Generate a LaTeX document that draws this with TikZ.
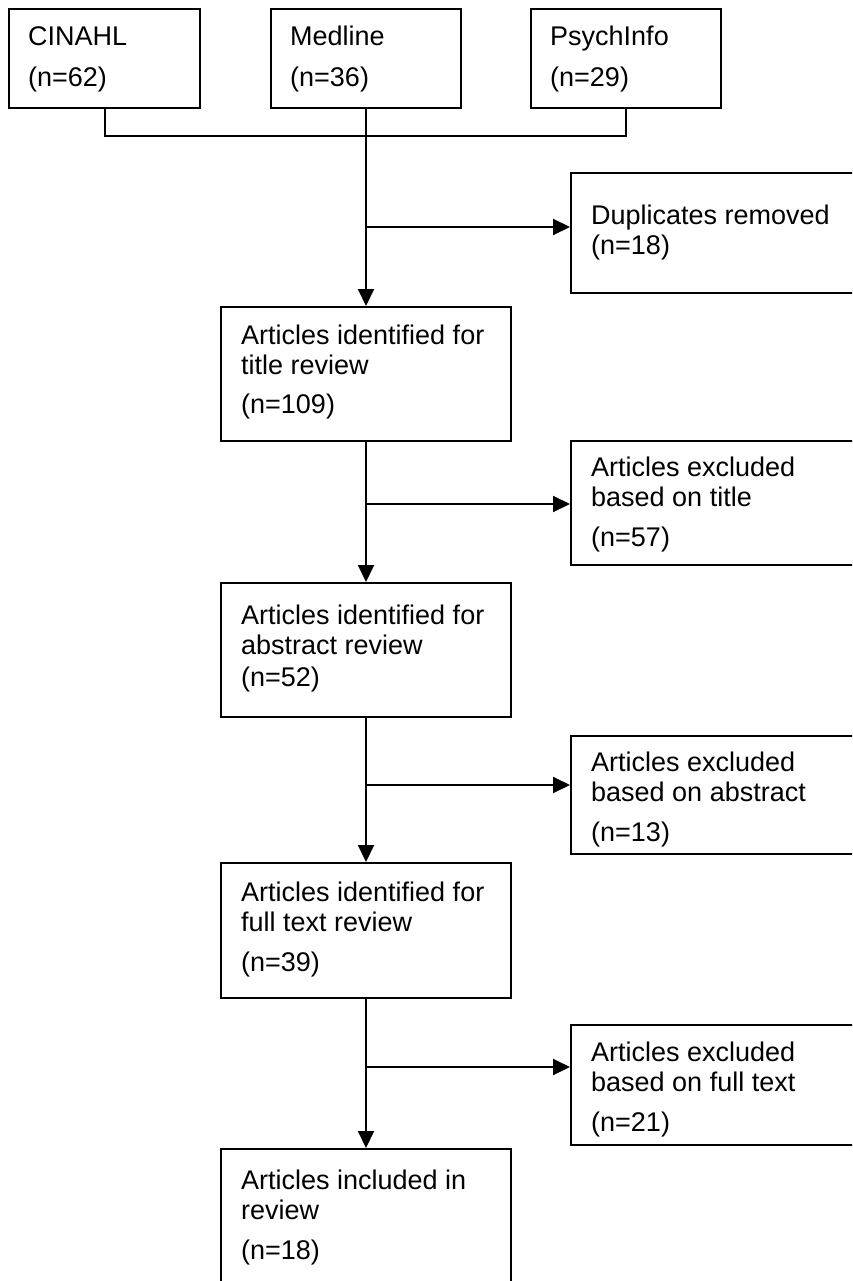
\documentclass[tikz,border=0pt]{standalone}
\usepackage{fontspec}
\setmainfont{Liberation Sans}
\usetikzlibrary{arrows.meta}

\tikzset{
  box/.style={draw, line width=2pt, anchor=north west, minimum height=#1, inner sep=0pt},
  txt/.style={anchor=north west, align=left, inner sep=0pt, font=\fontsize{27}{30}\selectfont},
  arr/.style={line width=2pt, -{Triangle[length=17pt,width=16pt]}}
}

\begin{document}
\begin{tikzpicture}[x=1pt,y=-1pt]
\useasboundingbox (0,0) rectangle (852,1281);
\clip (0,0) rectangle (852,1281);
\fill[white] (0,0) rectangle (852,1281);

% databases
\node[box=99pt, minimum width=191pt] (cinahl) at (8,8) {};
\node[box=99pt, minimum width=190pt] (medline) at (270,8) {};
\node[box=99pt, minimum width=190pt] (psych) at (530,8) {};
\node[txt] (cinahltxt) at ([xshift=20pt,yshift=-18pt]cinahl.north west) {CINAHL\\[11pt](n=62)};
\node[txt] (medlinetxt) at ([xshift=20pt,yshift=-18pt]medline.north west) {Medline\\[11pt](n=36)};
\node[txt] (psychtxt) at ([xshift=20pt,yshift=-18pt]psych.north west) {PsychInfo\\[11pt](n=29)};

% main column
\node[box=134pt, minimum width=290pt] (title) at (220,306) {};
\node[box=134pt, minimum width=290pt] (abstract) at (220,582) {};
\node[box=135pt, minimum width=290pt] (fulltext) at (220,862) {};
\node[box=145pt, minimum width=290pt] (included) at (220,1148) {};
\node[txt] (titletxt) at ([xshift=21pt,yshift=-19pt]title.north west) {Articles identified for\\title review\\[9pt](n=109)};
\node[txt] (abstracttxt) at ([xshift=21pt,yshift=-23pt]abstract.north west) {Articles identified for\\abstract review\\[2pt](n=52)};
\node[txt] (fulltexttxt) at ([xshift=21pt,yshift=-20pt]fulltext.north west) {Articles identified for\\full text review\\[10pt](n=39)};
\node[txt] (includedtxt) at ([xshift=21pt,yshift=-22pt]included.north west) {Articles included in\\review\\[10pt](n=18)};

% exclusions
\node[box=120pt, minimum width=310pt] (dup) at (570,172) {};
\node[box=124pt, minimum width=310pt] (extitle) at (570,440) {};
\node[box=118pt, minimum width=310pt] (exabstract) at (570,735) {};
\node[box=120pt, minimum width=310pt] (exfull) at (570,1024) {};
\node[txt] (duptxt) at ([xshift=21pt,yshift=-33pt]dup.north west) {Duplicates removed\\(n=18)};
\node[txt] (extitletxt) at ([xshift=21pt,yshift=-17pt]extitle.north west) {Articles excluded\\based on title\\[10pt](n=57)};
\node[txt] (exabstracttxt) at ([xshift=21pt,yshift=-17pt]exabstract.north west) {Articles excluded\\based on abstract\\[10pt](n=13)};
\node[txt] (exfulltxt) at ([xshift=21pt,yshift=-18pt]exfull.north west) {Articles excluded\\based on full text\\[10pt](n=21)};

% connectors
\draw[line width=2pt] (cinahl.south) -- ++(0,27) -| (psych.south);
\draw[arr] (medline.south) -- (title.north);
\draw[arr] (title.south) -- (abstract.north);
\draw[arr] (abstract.south) -- (fulltext.north);
\draw[arr] (fulltext.south) -- (included.north);

\coordinate (b1) at (365,227);
\coordinate (b2) at (365,504);
\coordinate (b3) at (365,785);
\coordinate (b4) at (365,1067);
\draw[arr] (b1) -- (b1 -| dup.west);
\draw[arr] (b2) -- (b2 -| extitle.west);
\draw[arr] (b3) -- (b3 -| exabstract.west);
\draw[arr] (b4) -- (b4 -| exfull.west);
\end{tikzpicture}
\end{document}
